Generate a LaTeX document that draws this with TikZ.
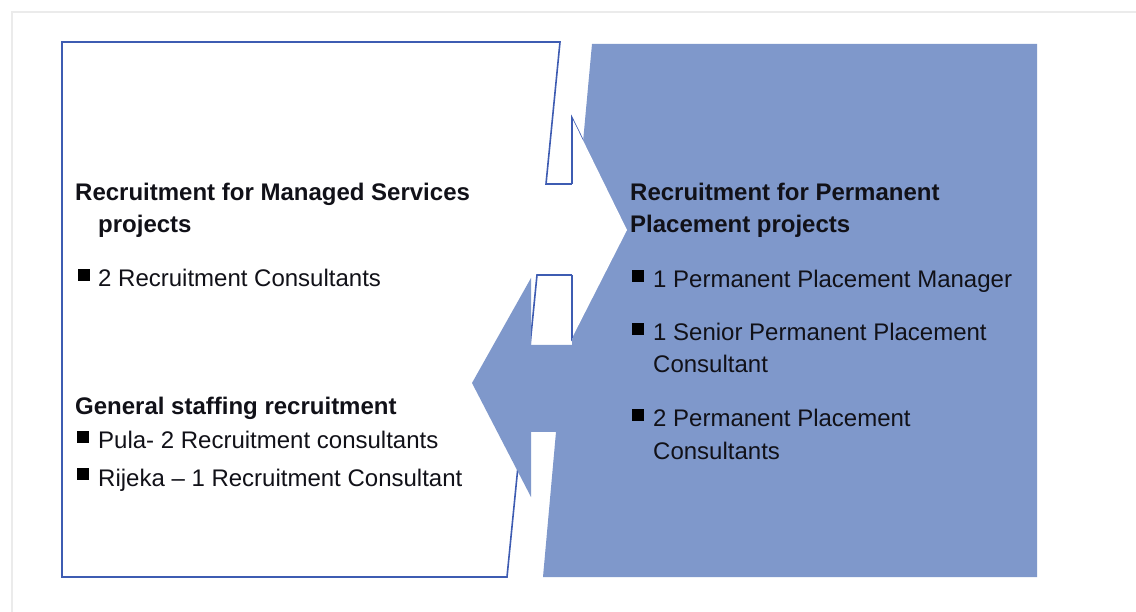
\documentclass[tikz,border=0pt]{standalone}
\usepackage{fontspec}
\setmainfont{Liberation Sans}
\definecolor{fillblue}{RGB}{127,152,203}
\definecolor{lineblue}{RGB}{62,92,178}
\definecolor{txtdark}{RGB}{17,17,24}
\begin{document}
\begin{tikzpicture}[x=1pt,y=-1pt,
  txt/.style={anchor=base west, inner sep=0pt, text=txtdark, font=\fontsize{24}{28}\selectfont},
  head/.style={txt, font=\fontsize{24}{28}\selectfont\bfseries},
  bul/.style={fill=black, inner sep=0pt, minimum size=12pt, anchor=north west},
  outl/.style={draw=lineblue, line width=1.6pt, line join=miter}]
\useasboundingbox (0,0) rectangle (1136,612);
\fill[white] (0,0) rectangle (1136,612);
\draw[black!8, line width=2pt] (12,612) -- (12,12) -- (1136,12);
% white shape with right-pointing arrow
\filldraw[fill=white, outl] (62,42) -- (560,42) -- (546,184) -- (572,184) -- (572,118) -- (627,230) -- (572,338) -- (572,275) -- (537,275) -- (507,577) -- (62,577) -- cycle;
% blue shape with left-pointing arrow
\fill[fillblue] (592,44) -- (1037,44) -- (1037,577) -- (543,577) -- (556,432) -- (531,432) -- (531,497) -- (472,383) -- (531,278) -- (531,345) -- (572,345) -- (572,262) -- cycle;
% white arrow head over the blue shape
\fill[white] (572,118) -- (627,230) -- (572,338) -- cycle;
\draw[outl] (572,184) -- (572,118);
\draw[outl] (572,275) -- (572,338);
% left texts
\node[head] (ms1) at (75,201) {Recruitment for Managed Services};
\node[head] (ms2) at (98,233) {projects};
\node[bul] (b1) at (78,269) {};
\node[txt] (ms3) at (98,287) {2 Recruitment Consultants};
\node[head] (gs1) at (75,414) {General staffing recruitment};
\node[bul] (b2) at (77,431) {};
\node[txt] (gs2) at (98,449) {Pula- 2 Recruitment consultants};
\node[bul] (b3) at (77,468) {};
\node[txt] (gs3) at (98,486) {Rijeka -- 1 Recruitment Consultant};
% right texts
\node[head] (pp1) at (630,201) {Recruitment for Permanent};
\node[head] (pp2) at (630,233) {Placement projects};
\node[bul] (b4) at (632,270) {};
\node[txt] (pp3) at (653,288) {1 Permanent Placement Manager};
\node[bul] (b5) at (632,323) {};
\node[txt] (pp4) at (653,341) {1 Senior Permanent Placement};
\node[txt] (pp5) at (653,373) {Consultant};
\node[bul] (b6) at (632,409) {};
\node[txt] (pp6) at (653,427) {2 Permanent Placement};
\node[txt] (pp7) at (653,459) {Consultants};
\end{tikzpicture}
\end{document}
